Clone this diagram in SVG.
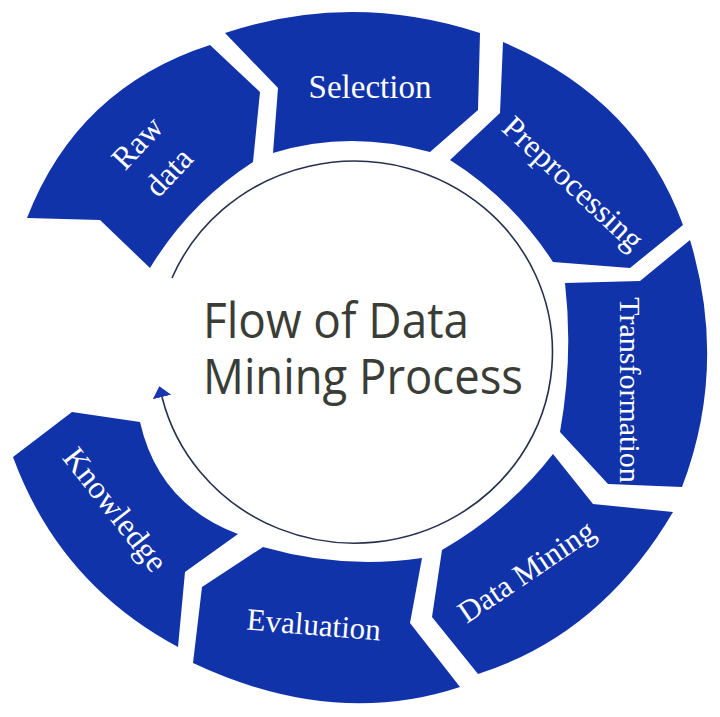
<svg xmlns="http://www.w3.org/2000/svg" width="720" height="717" viewBox="0 0 720 717">
<defs>
<style>
.seg{fill:#1133aa;}
.lbl{font-family:"Liberation Serif","Times New Roman",serif;fill:#ffffff;text-anchor:middle;}
.title{font-family:"Open Sans","Noto Sans",sans-serif;fill:#3a3d36;font-size:50px;}
.flow{fill:none;stroke:#27304f;stroke-width:1.6;}
</style>
<marker id="arrow" markerUnits="userSpaceOnUse" markerWidth="14" markerHeight="22" viewBox="0 -11 14 22" refX="0" refY="0" orient="auto">
<path d="M0,-9.5 L11,0 L0,9.5 Z" fill="#1a35b0"/>
</marker>
</defs>
<rect width="720" height="717" fill="#ffffff"/>

<g id="connectors">
<path class="flow" marker-end="url(#arrow)" d="M172,278 A198,191 0 1 1 162,397"/>
</g>

<g id="center">
<text class="title"><tspan x="203" y="338" textLength="266" lengthAdjust="spacingAndGlyphs">Flow of Data</tspan><tspan x="203" y="394" textLength="320" lengthAdjust="spacingAndGlyphs">Mining Process</tspan></text>
</g>

<g id="raw-data">
<path class="seg" d="M27,218 L100,220 L150,268 Q189.3,203.2 253,162 L260,92 L210,45 Q77.3,87.9 27,218 Z"/>
<text class="lbl" font-size="32" transform="translate(145,150) rotate(-47)"><tspan x="0" y="0">Raw</tspan><tspan x="0" y="43">data</tspan></text>
</g>

<g id="selection">
<path class="seg" d="M225,33 L278,88 L273,153 Q348.5,129.5 430,152 L478,110 L480,33 Q351.5,-9 225,33 Z"/>
<text class="lbl" font-size="33" x="370" y="98">Selection</text>
</g>

<g id="preprocessing">
<path class="seg" d="M503,42 L500,113 L450,160 Q512,199 553,262 L630,268 L683,225 Q637,98.5 503,42 Z"/>
<text class="lbl" font-size="32" transform="translate(566,191) rotate(43)">Preprocessing</text>
</g>

<g id="transformation">
<path class="seg" d="M565,283 L640,281 L690,240 Q728,366.5 682,487 L608,484 L560,432 Q573.5,356.5 565,283 Z"/>
<text class="lbl" font-size="30" transform="translate(620,390) rotate(90)">Transformation</text>
</g>

<g id="data-mining">
<path class="seg" d="M673,512 L593,504 L553,454 Q508,512 442,550 L432,617 L478,674 Q600.5,635 673,512 Z"/>
<text class="lbl" font-size="31" transform="translate(532,580) rotate(-34)">Data Mining</text>
</g>

<g id="evaluation">
<path class="seg" d="M422,558 L410,623 L460,687 Q333.5,729 193,663 L202,587 L263,547 Q341.5,569.5 422,558 Z"/>
<text class="lbl" font-size="31" transform="translate(313,635) rotate(4.6)">Evaluation</text>
</g>

<g id="knowledge">
<path class="seg" d="M13,457 L72,412 L140,422 Q158.8,504.4 238,534 L185,572 L178,647 Q59.3,583.4 13,457 Z"/>
<text class="lbl" font-size="32" transform="translate(107,516) rotate(52)">Knowledge</text>
</g>
</svg>
